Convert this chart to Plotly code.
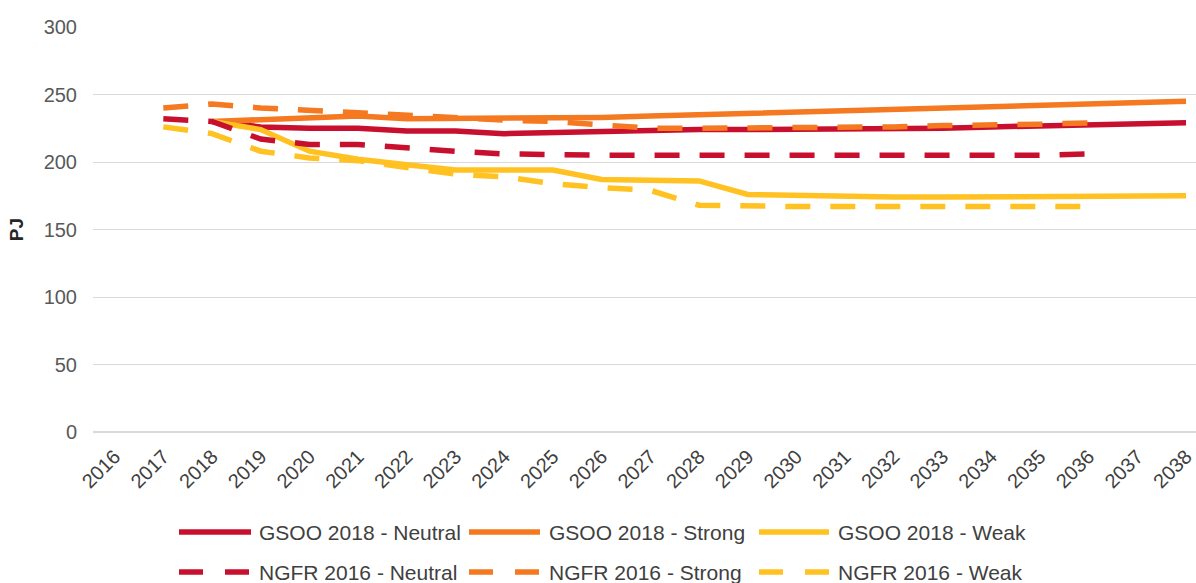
import plotly.graph_objects as go

# Gas consumption projections (PJ)
years_gsoo = list(range(2018, 2039))
years_ngfr = list(range(2017, 2037))
tick_years = list(range(2016, 2039))

gsoo_neutral = [230, 226, 225, 225, 223, 223, 221, 222, 223, 224, 224,
                224, 224, 224, 224, 225, 226, 227, 227, 228, 229]
gsoo_strong = [230, 231, 232, 234, 232, 232, 232, 233, 233, 234, 235,
               236, 236, 237, 238, 239, 240, 241, 242, 243, 245]
gsoo_weak = [230, 224, 208, 202, 198, 194, 194, 194, 187, 187, 186,
             176, 175, 174, 174, 174, 174, 174, 175, 175, 175]

ngfr_neutral = [232, 230, 217, 213, 213, 210, 208, 206, 205, 205, 205,
                205, 205, 204, 204, 204, 205, 205, 205, 206]
ngfr_strong = [240, 243, 240, 238, 237, 234, 232, 231, 230, 228, 225,
               225, 225, 225, 225, 226, 227, 227, 228, 229]
ngfr_weak = [226, 221, 208, 203, 201, 196, 191, 189, 184, 181, 179,
             168, 167, 167, 167, 167, 167, 167, 167, 167]

RED = "#C8102E"
ORANGE = "#F47920"
YELLOW = "#FFC222"
DASH = "25px,20px"

series = [
    ("GSOO 2018 - Neutral", years_gsoo, gsoo_neutral, RED, "solid"),
    ("GSOO 2018 - Strong", years_gsoo, gsoo_strong, ORANGE, "solid"),
    ("GSOO 2018 - Weak", years_gsoo, gsoo_weak, YELLOW, "solid"),
    ("NGFR 2016 - Neutral", years_ngfr, ngfr_neutral, RED, DASH),
    ("NGFR 2016 - Strong", years_ngfr, ngfr_strong, ORANGE, DASH),
    ("NGFR 2016 - Weak", years_ngfr, ngfr_weak, YELLOW, DASH),
]

W, H = 1196, 583
ML, MR, MT, MB = 93, 0, 27, 151
PW = W - ML - MR
PH = H - MT - MB

fig = go.Figure()
for name, xs, ys, color, dash in series:
    fig.add_trace(go.Scatter(
        x=xs, y=ys, name=name, mode="lines",
        line=dict(color=color, width=5.5, dash=dash),
        showlegend=False, hoverinfo="x+y+name",
    ))

FONT = "Liberation Sans, Arial, sans-serif"

# Legend drawn below the plot: two rows of three entries
legend_cols = [(179, 251, 257), (469, 540, 547), (759, 829, 836)]
legend_rows = [532, 572]
shapes = []
annotations = []
for idx, (name, _, _, color, dash) in enumerate(series):
    row, col = divmod(idx, 3)
    x0, x1, xt = legend_cols[col]
    yp = (MT + PH - legend_rows[row]) / PH
    shapes.append(dict(
        type="line", xref="paper", yref="paper",
        x0=(x0 - ML) / PW, x1=(x1 - ML) / PW, y0=yp, y1=yp,
        line=dict(color=color, width=5.5,
                  dash="solid" if dash == "solid" else "24px,22px"),
    ))
    annotations.append(dict(
        text=name, xref="paper", yref="paper",
        x=(xt - ML) / PW, y=yp, xanchor="left", yanchor="middle",
        showarrow=False, font=dict(family=FONT, size=21, color="#404040"),
    ))

fig.update_layout(
    width=W, height=H,
    margin=dict(l=ML, r=MR, t=MT, b=MB, pad=0),
    paper_bgcolor="white", plot_bgcolor="white",
    font=dict(family=FONT, size=20, color="#595959"),
    showlegend=False,
    shapes=shapes,
    annotations=annotations,
    xaxis=dict(
        range=[2015.556, 2038.205],
        tickmode="array", tickvals=tick_years,
        ticktext=[str(y) for y in tick_years],
        tickangle=-45, showgrid=False, zeroline=False, showline=False,
        ticks="", tickfont=dict(size=20, color="#404040"),
        ticklabelstandoff=8,
    ),
    yaxis=dict(
        range=[0, 300], tickmode="array", tickvals=[0, 50, 100, 150, 200, 250, 300],
        showgrid=True, gridcolor="#d9d9d9", gridwidth=1,
        zeroline=True, zerolinecolor="#d9d9d9", zerolinewidth=2,
        showline=False, ticks="", ticklabelstandoff=15,
        tickfont=dict(size=20, color="#595959"),
        title=dict(text="<b>PJ</b>", font=dict(size=19, color="#262626"), standoff=14),
    ),
)

fig.write_html("out.html")
